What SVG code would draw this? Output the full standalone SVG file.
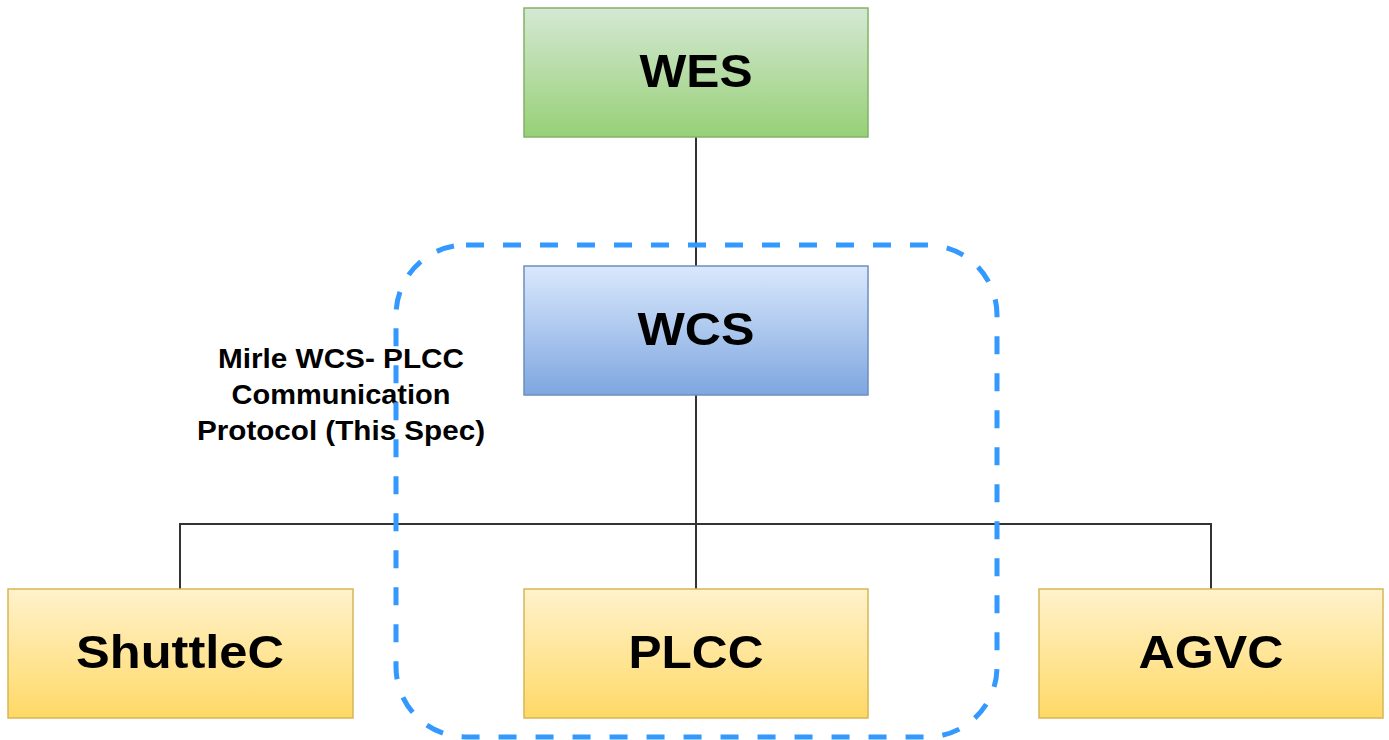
<svg xmlns="http://www.w3.org/2000/svg" width="1389" height="740" viewBox="0 0 1389 740">
  <defs>
    <linearGradient id="gGreen" x1="0" y1="0" x2="0" y2="1">
      <stop offset="0" stop-color="#d5e8d4"/>
      <stop offset="1" stop-color="#97d077"/>
    </linearGradient>
    <linearGradient id="gBlue" x1="0" y1="0" x2="0" y2="1">
      <stop offset="0" stop-color="#dae8fc"/>
      <stop offset="1" stop-color="#7ea6e0"/>
    </linearGradient>
    <linearGradient id="gYellow" x1="0" y1="0" x2="0" y2="1">
      <stop offset="0" stop-color="#fff2cc"/>
      <stop offset="1" stop-color="#ffd966"/>
    </linearGradient>
  </defs>
  <style>
    .lbl { font-family: "Liberation Sans", Arial, sans-serif; font-weight: bold; font-size: 47px; fill: #000; text-anchor: middle; }
    .note { font-family: "Liberation Sans", Arial, sans-serif; font-weight: bold; font-size: 27px; fill: #000; text-anchor: middle; }
    .green { fill: url(#gGreen); stroke: #82b366; stroke-width: 1.5; }
    .blue { fill: url(#gBlue); stroke: #6c8ebf; stroke-width: 1.5; }
    .yellow { fill: url(#gYellow); stroke: #d6b656; stroke-width: 1.5; }
    .conn { fill: none; stroke: #333; stroke-width: 2; }
    .dash { fill: none; stroke: #3399ff; stroke-width: 5; stroke-dasharray: 18 19; }
  </style>
  <rect width="1389" height="740" fill="#ffffff"/>

  <g id="connectors">
    <path class="conn" d="M696 137 V266"/>
    <path class="conn" d="M696 395 V589"/>
    <path class="conn" d="M180 589 V524 H1211 V589"/>
  </g>

  <g id="WES">
    <rect class="green" x="524" y="8" width="344" height="129"/>
    <text class="lbl" x="696" y="87" textLength="113" lengthAdjust="spacingAndGlyphs">WES</text>
  </g>

  <g id="WCS">
    <rect class="blue" x="524" y="266" width="344" height="129"/>
    <text class="lbl" x="696" y="345" textLength="117" lengthAdjust="spacingAndGlyphs">WCS</text>
  </g>

  <g id="ShuttleC">
    <rect class="yellow" x="8" y="589" width="345" height="129"/>
    <text class="lbl" x="180" y="668" textLength="208" lengthAdjust="spacingAndGlyphs">ShuttleC</text>
  </g>

  <g id="PLCC">
    <rect class="yellow" x="524" y="589" width="344" height="129"/>
    <text class="lbl" x="696" y="668" textLength="135" lengthAdjust="spacingAndGlyphs">PLCC</text>
  </g>

  <g id="AGVC">
    <rect class="yellow" x="1039" y="589" width="344" height="129"/>
    <text class="lbl" x="1211" y="668" textLength="145" lengthAdjust="spacingAndGlyphs">AGVC</text>
  </g>

  <g id="protocol-label">
    <text class="note" x="341" y="368" textLength="246" lengthAdjust="spacingAndGlyphs">Mirle WCS- PLCC</text>
    <text class="note" x="341" y="404" textLength="219" lengthAdjust="spacingAndGlyphs">Communication</text>
    <text class="note" x="341" y="440" textLength="288" lengthAdjust="spacingAndGlyphs">Protocol (This Spec)</text>
  </g>

  <g id="boundary">
    <rect class="dash" x="396" y="245" width="601" height="492" rx="70" ry="70"/>
  </g>
</svg>
